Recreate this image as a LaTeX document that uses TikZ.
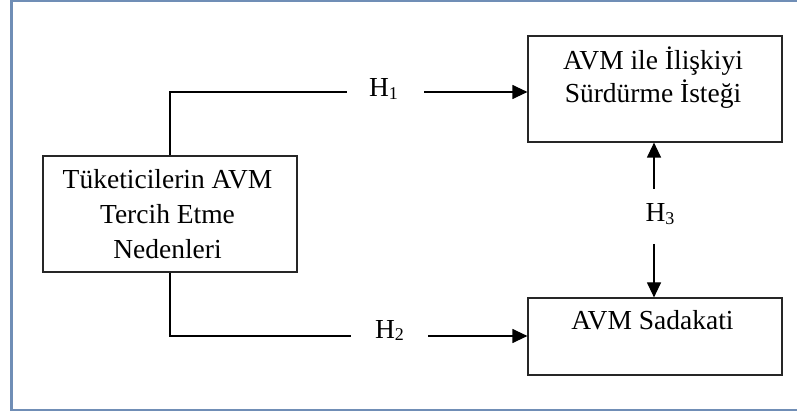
\documentclass[tikz,border=0pt]{standalone}
\usepackage{fontspec}
\setmainfont{Liberation Serif}
\usetikzlibrary{arrows.meta}
\definecolor{framec}{RGB}{112,142,182}
\tikzset{
  boxnode/.style={draw=black!85, line width=1.2pt, rectangle, inner sep=0pt},
  txt/.style={font=\fontsize{27.5}{33}\selectfont, align=center, inner sep=0pt, anchor=base},
  hlab/.style={font=\fontsize{27.5}{27.5}\selectfont, inner sep=0pt, anchor=base},
  conn/.style={line width=1.2pt, black},
  arr/.style={conn, -{Triangle[length=15pt,width=14pt]}}
}
\newcommand{\hsub}[1]{H\raisebox{-2.5pt}{\fontsize{18}{18}\selectfont #1}}
\begin{document}
\begin{tikzpicture}[x=1pt,y=-1pt]
\useasboundingbox (0,0) rectangle (797,411);
% frame
\draw[framec, line width=2.2pt] (800,1.2) -- (11.5,1.2) -- (11.5,409.8) -- (800,409.8);
% boxes
\node[boxnode, minimum width=254pt, minimum height=116pt] (src) at (170,214) {};
\node[boxnode, minimum width=254pt, minimum height=106pt] (tgt1) at (655,89) {};
\node[boxnode, minimum width=254pt, minimum height=77pt] (tgt2) at (655,336.5) {};
% texts (base anchor = baseline of the last line)
\node[txt, font=\fontsize{27.5}{35}\selectfont] (srct) at (167.5,259) {Tüketicilerin AVM\\Tercih Etme\\Nedenleri};
\node[txt] (tgt1t) at (653,102.5) {AVM ile İlişkiyi\\Sürdürme İsteği};
\node[txt] (tgt2t) at (652.5,330) {AVM Sadakati};
% hypothesis labels
\node[hlab] (h1) at (383.5,97) {\hsub{1}};
\node[hlab] (h2) at (389.5,338) {\hsub{2}};
\node[hlab] (h3) at (660,222) {\hsub{3}};
% connector end points
\coordinate (h1a) at (347,92);
\coordinate (h1b) at (424,92);
\coordinate (h2a) at (351,336);
\coordinate (h2b) at (428,336);
\coordinate (h3t) at (654,189);
\coordinate (h3b) at (654,244);
% connectors
\draw[conn] (src.north) |- (h1a);
\draw[arr] (h1b) -- (tgt1.west |- h1b);
\draw[conn] (src.south) |- (h2a);
\draw[arr] (h2b) -- (tgt2.west |- h2b);
\draw[arr] (h3t) -- (tgt1.south -| h3t);
\draw[arr] (h3b) -- (tgt2.north -| h3b);
\end{tikzpicture}
\end{document}
